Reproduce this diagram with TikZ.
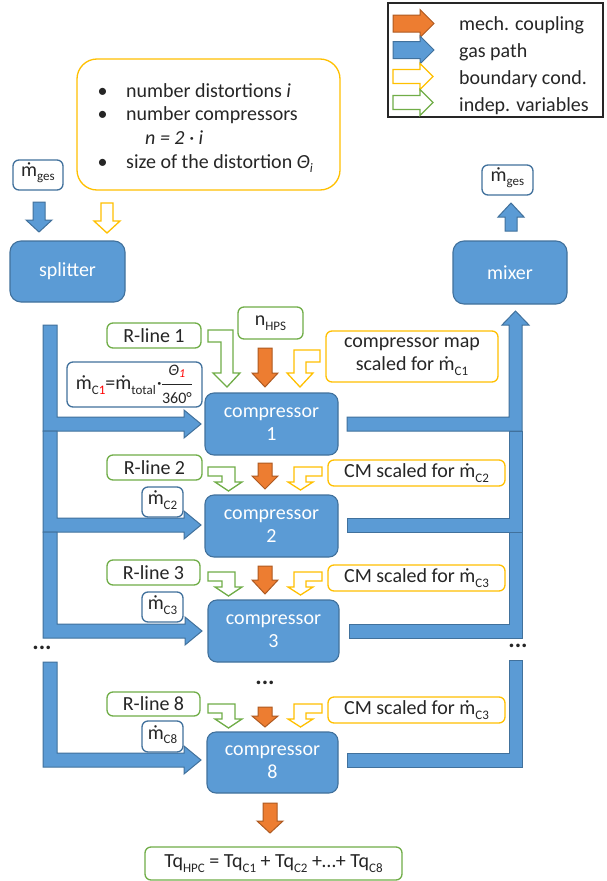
\documentclass[tikz,border=0pt]{standalone}
\usepackage{fontspec}
\setmainfont{Carlito}
\usepackage{amsmath}

\definecolor{gasblue}{HTML}{5B9BD5}
\definecolor{gasedge}{HTML}{41719C}
\definecolor{mechor}{HTML}{ED7D31}
\definecolor{mechedge}{HTML}{AE5A21}
\definecolor{bcyellow}{HTML}{FFC000}
\definecolor{ivgreen}{HTML}{70AD47}
\definecolor{ink}{HTML}{262626}

% m with a dot above (mass flow)
\newcommand\mdot{\ooalign{m\cr\hidewidth\char"02D9\hidewidth\cr}}
% lowered, smaller index text
\newcommand\sub[1]{\raisebox{-4.5pt}{\fontsize{13}{13}\selectfont #1}}

\tikzset{
  txt/.style={font=\fontsize{20}{23}\selectfont, text=ink, inner sep=0pt},
  frame/.style={rectangle, inner sep=0pt, line width=1.3pt, font=\fontsize{20}{23}\selectfont, align=center},
  blk/.style={frame, rounded corners=9pt, fill=gasblue, draw=gasedge, line width=1.1pt, text=white},
  ybox/.style={frame, rounded corners=6pt, draw=bcyellow, fill=white, text=ink},
  gbox/.style={frame, rounded corners=6pt, draw=ivgreen, fill=white, text=ink},
  bbox/.style={frame, rounded corners=6pt, draw=gasedge, fill=white, text=ink},
  pipe/.style={fill=gasblue, draw=gasedge, line width=1pt},
  mech/.style={fill=mechor, draw=mechedge, line width=1pt},
  bcarrow/.style={fill=white, draw=bcyellow, line width=1.3pt},
  ivarrow/.style={fill=white, draw=ivgreen, line width=1.3pt},
  dots/.style={font=\fontsize{24}{24}\selectfont\bfseries, text=ink, inner sep=0pt},
}

\begin{document}
\begin{tikzpicture}[x=1pt,y=-1pt]
\useasboundingbox (0,0) rectangle (606,881);
\fill[white] (0,0) rectangle (606,881);

% ---------- legend ----------
\node[frame, draw=black!85, minimum width=215pt, minimum height=114pt] (legend) at (495.5,60) {};
\draw[mech]   (393,15)--(420,15)--(420,9.5)--(434,23.5)--(420,37.5)--(420,32)--(393,32)--cycle;
\draw[pipe]   (393,41.5)--(420,41.5)--(420,36)--(434,50)--(420,64)--(420,58.5)--(393,58.5)--cycle;
\draw[bcarrow](393,69.5)--(420,69.5)--(420,63.5)--(433,76.5)--(420,89.5)--(420,83.5)--(393,83.5)--cycle;
\draw[ivarrow](393,95.5)--(420,95.5)--(420,89.5)--(433,102.5)--(420,115.5)--(420,109.5)--(393,109.5)--cycle;
\node[txt, anchor=base west] (lg1) at (459,30)  {mech. coupling};
\node[txt, anchor=base west] (lg2) at (459,57)  {gas path};
\node[txt, anchor=base west] (lg3) at (459,84)  {boundary cond.};
\node[txt, anchor=base west] (lg4) at (459,111) {indep. variables};

% ---------- inputs of the distortion model ----------
\node[ybox, rounded corners=20pt, minimum width=263pt, minimum height=131pt] (inputs) at (208.5,124.5) {};
\node[txt, anchor=base west, font=\fontsize{20}{23.8}\selectfont] (inlist) at (97.5,97)
  {\begin{tabular}[t]{@{}p{28.5pt}@{}l@{}}
   •& number distortions \textit{i}\\
   •& number compressors\\
    & \hspace{19pt}\textit{n = 2 · i}\\
   •& size of the distortion \textit{Θ\sub{i}}
   \end{tabular}};

% ---------- splitter and mixer ----------
\node[bbox, minimum width=50pt, minimum height=30pt] (min) at (38,175) {\mdot\sub{ges}};
\node[bbox, minimum width=51pt, minimum height=30pt] (mout) at (507.5,180) {\mdot\sub{ges}};
\node[blk, rounded corners=11pt, minimum width=115pt, minimum height=61pt] (splitter) at (67.5,271.5) {splitter};
\node[blk, rounded corners=11pt, minimum width=114pt, minimum height=63pt] (mixer) at (510,272.5) {mixer};
\draw[pipe]    (33,202)--(45,202)--(45,220)--(52,220)--(39,232)--(26,220)--(33,220)--cycle;
\draw[bcarrow] (101,203)--(113,203)--(113,221)--(120,221)--(107,233)--(94,221)--(101,221)--cycle;
\draw[pipe]    (505,231)--(517,231)--(517,217)--(524,217)--(511,203)--(498,217)--(505,217)--cycle;

% ---------- gas path: inlet branches ----------
\draw[pipe] (43,325)--(57,325)--(57,417)--(184,417)--(184,410)--(201,424)--(184,438)--(184,431)--(43,431)--cycle;
\draw[pipe] (43,431)--(57,431)--(57,518)--(184,518)--(184,511)--(201,525)--(184,539)--(184,532)--(43,532)--cycle;
\draw[pipe] (43,532)--(57,532)--(57,624)--(185,624)--(185,617)--(202,631)--(185,645)--(185,638)--(43,638)--cycle;
\draw[pipe] (43,662)--(57,662)--(57,753)--(184,753)--(184,746)--(201,760)--(184,774)--(184,767)--(43,767)--cycle;

% ---------- gas path: outlet branches ----------
\draw[pipe] (347,417)--(509,417)--(509,325)--(502,325)--(515.5,311)--(529,325)--(522,325)--(522,431)--(347,431)--cycle;
\draw[pipe] (347,518)--(509,518)--(509,431)--(522,431)--(522,532)--(347,532)--cycle;
\draw[pipe] (349,624)--(509,624)--(509,532)--(522,532)--(522,638)--(349,638)--cycle;
\draw[pipe] (347,753)--(509,753)--(509,660)--(522,660)--(522,767)--(347,767)--cycle;

\node[dots] (dotsl) at (42,648) {...};
\node[dots] (dotsr) at (518,646) {...};
\node[dots] (dotsc) at (265,683) {...};

% ---------- compressors ----------
\node[blk, minimum width=133pt, minimum height=62pt] (c1) at (271.5,424) {compressor\\1};
\node[blk, minimum width=133pt, minimum height=62pt] (c2) at (271.5,526) {compressor\\2};
\node[blk, minimum width=131pt, minimum height=62pt] (c3) at (273.5,631) {compressor\\3};
\node[blk, minimum width=131pt, minimum height=61pt] (c8) at (272.5,762.5) {compressor\\8};

% ---------- compressor 1 ----------
\node[gbox, minimum width=94pt, minimum height=25pt] (rl1) at (154,335.5) {R-line 1};
\node[gbox, minimum width=65pt, minimum height=32pt] (nhps) at (270.5,323) {n\sub{HPS}};
\node[bbox, minimum width=135pt, minimum height=45pt] (mc1) at (134.5,384.5)
  {\mdot\sub{C\textcolor{red}{1}}=\mdot\sub{total}\kern1pt·\kern-1pt$\dfrac{\text{\fontsize{16}{16}\selectfont\itshape Θ\raisebox{-2pt}{\fontsize{12}{12}\selectfont\color{red}1}}}{\text{\fontsize{16}{16}\selectfont 360°}}$};
\node[ybox, minimum width=172pt, minimum height=51pt] (cm1) at (412,356.5) {compressor map\\scaled for \mdot\sub{C1}};
\draw[ivarrow] (208,330)--(233,330)--(233,373)--(240,373)--(227,387)--(213,373)--(221,373)--(221,342)--(208,342)--cycle;
\draw[mech]    (258,348)--(272,348)--(272,373)--(278,373)--(265,387)--(252,373)--(258,373)--cycle;
\draw[bcarrow] (320,350)--(294,350)--(294,373)--(287,373)--(300,387)--(313,373)--(306,373)--(306,362)--(320,362)--cycle;

% ---------- compressor 2 ----------
\node[gbox, minimum width=95pt, minimum height=25pt] (rl2) at (154.5,467.5) {R-line 2};
\node[bbox, minimum width=41pt, minimum height=30pt] (mc2) at (162.5,502) {\mdot\sub{C2}};
\node[ybox, minimum width=177pt, minimum height=26pt] (cm2) at (416.5,473) {CM scaled for \mdot\sub{C2}};
\draw[ivarrow] (208,467)--(235,467)--(235,482)--(242,482)--(228.5,491)--(215,482)--(222,482)--(222,476)--(208,476)--cycle;
\draw[mech]    (258,463)--(272,463)--(272,476)--(278,476)--(265,489)--(252,476)--(258,476)--cycle;
\draw[bcarrow] (322,467)--(294,467)--(294,482)--(288,482)--(300.5,490)--(313,482)--(306,482)--(306,476)--(322,476)--cycle;

% ---------- compressor 3 ----------
\node[gbox, minimum width=93pt, minimum height=25pt] (rl3) at (153.5,572.5) {R-line 3};
\node[bbox, minimum width=41pt, minimum height=30pt] (mc3) at (162.5,607) {\mdot\sub{C3}};
\node[ybox, minimum width=177pt, minimum height=26pt] (cm3) at (416.5,578) {CM scaled for \mdot\sub{C3}};
\draw[ivarrow] (208,572)--(235,572)--(235,587)--(242,587)--(228.5,596)--(215,587)--(222,587)--(222,581)--(208,581)--cycle;
\draw[mech]    (258,566)--(272,566)--(272,580)--(278,580)--(265,594)--(252,580)--(258,580)--cycle;
\draw[bcarrow] (322,572)--(294,572)--(294,587)--(288,587)--(300.5,595)--(313,587)--(306,587)--(306,581)--(322,581)--cycle;

% ---------- compressor 8 ----------
\node[gbox, minimum width=93pt, minimum height=24pt] (rl8) at (153.5,704) {R-line 8};
\node[bbox, minimum width=41pt, minimum height=31pt] (mc8) at (162.5,736.5) {\mdot\sub{C8}};
\node[ybox, minimum width=177pt, minimum height=26pt] (cm8) at (416.5,710) {CM scaled for \mdot\sub{C3}};
\draw[ivarrow] (208,704)--(235,704)--(235,719)--(242,719)--(228.5,728)--(215,719)--(222,719)--(222,713)--(208,713)--cycle;
\draw[mech]    (258,707)--(272,707)--(272,716)--(278,716)--(265,727)--(252,716)--(258,716)--cycle;
\draw[bcarrow] (322,704)--(294,704)--(294,719)--(288,719)--(300.5,727)--(313,719)--(306,719)--(306,713)--(322,713)--cycle;

% ---------- total torque ----------
\draw[mech] (263,803)--(277,803)--(277,821)--(283,821)--(270,833)--(257,821)--(263,821)--cycle;
\node[gbox, minimum width=257pt, minimum height=33pt] (tq) at (273.5,863.5)
  {Tq\sub{HPC} = Tq\sub{C1} + Tq\sub{C2} +…+ Tq\sub{C8}};
\end{tikzpicture}
\end{document}
